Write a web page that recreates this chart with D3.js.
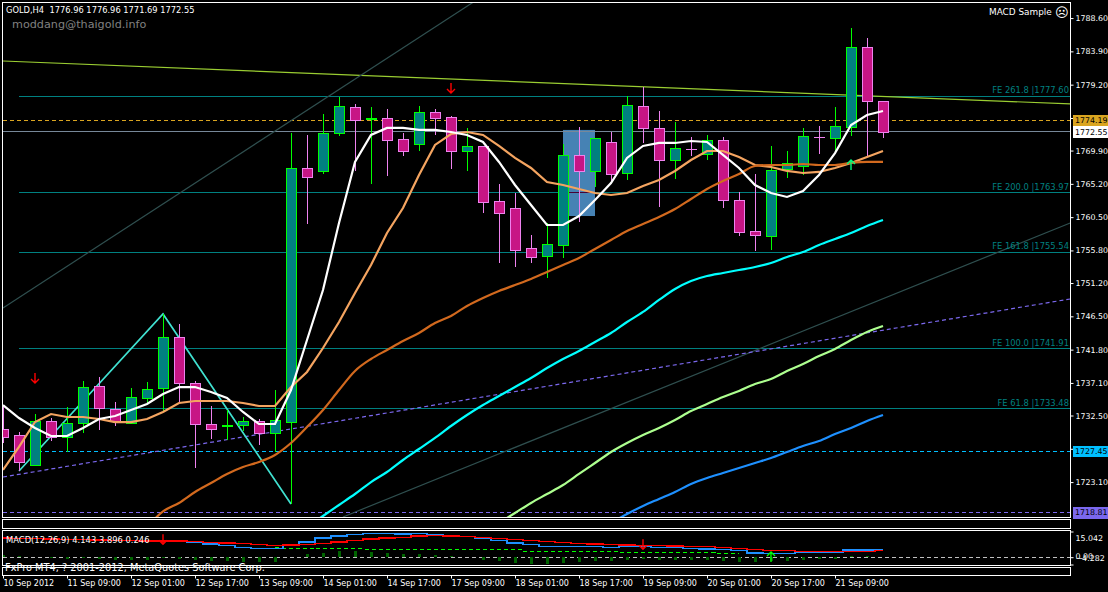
<!DOCTYPE html>
<html><head><meta charset="utf-8">
<script src="https://cdn.jsdelivr.net/npm/d3@7/dist/d3.min.js"></script>
<style>
html,body{margin:0;padding:0;background:#000;overflow:hidden}
svg{display:block}
text{font-family:"DejaVu Sans",sans-serif;font-size:8px;fill:#fff}
</style></head><body><div id="chart"></div>
<script>
// ---------- data (prices) ----------
const open=[1730.60,1729.75,1725.51,1731.73,1729.47,1731.44,1736.67,1733.42,1731.44,1734.97,1736.38,1743.59,1737.09,1731.30,1731.02,1731.16,1731.73,1730.03,1731.58,1767.44,1767.02,1772.38,1776.05,1774.36,1774.50,1771.54,1770.83,1775.35,1774.64,1769.84,1770.55,1762.78,1761.79,1756.15,1755.02,1756.57,1769.28,1767.02,1771.11,1766.73,1776.19,1773.09,1768.57,1770.13,1769.41,1771.39,1762.92,1758.54,1757.84,1767.30,1767.72,1771.83,1771.67,1773.23,1784.52,1776.96];
const high=[1733.84,1730.17,1732.71,1732.15,1733.70,1737.37,1737.94,1734.41,1736.38,1737.23,1746.83,1745.42,1737.37,1733.84,1733.28,1732.29,1732.01,1736.10,1772.38,1772.10,1775.06,1777.46,1776.48,1776.05,1775.77,1772.38,1776.19,1775.77,1774.78,1773.09,1770.55,1765.18,1763.91,1757.98,1759.67,1770.83,1773.23,1771.67,1772.52,1777.60,1778.87,1775.48,1773.93,1771.82,1772.10,1771.82,1764.05,1766.59,1770.55,1769.84,1773.09,1773.37,1776.05,1787.19,1785.79,1776.96];
const low=[1728.62,1724.67,1725.51,1728.90,1727.35,1730.03,1730.46,1731.02,1731.44,1734.27,1733.00,1734.27,1725.09,1729.19,1729.05,1730.32,1728.34,1727.35,1720.01,1759.53,1766.59,1771.96,1767.02,1765.18,1766.31,1769.14,1769.84,1772.10,1767.30,1767.02,1761.09,1754.03,1753.46,1754.03,1751.91,1754.74,1759.81,1764.76,1765.32,1765.74,1770.97,1761.93,1765.88,1769.14,1768.57,1761.79,1757.84,1755.73,1755.87,1766.03,1766.45,1769.41,1769.84,1771.96,1769.14,1771.69];
const close=[1729.47,1725.94,1731.73,1729.47,1731.44,1736.52,1733.56,1731.73,1735.11,1736.24,1743.59,1737.09,1731.30,1730.60,1731.16,1731.73,1730.03,1731.87,1767.44,1766.17,1772.38,1776.19,1774.22,1774.50,1771.39,1769.84,1775.35,1774.50,1769.84,1770.55,1762.64,1761.09,1755.87,1754.88,1756.71,1769.28,1767.02,1771.67,1766.59,1776.33,1773.09,1768.57,1770.26,1770.12,1771.39,1762.92,1758.40,1757.98,1767.16,1768.15,1771.96,1771.82,1773.37,1784.52,1776.90,1772.55];

const maFast=[1733.98,1732.15,1730.74,1729.61,1729.61,1730.74,1732.01,1732.43,1733.28,1734.13,1735.54,1736.52,1736.52,1735.82,1734.97,1733.00,1731.30,1731.30,1736.10,1743.16,1750.22,1759.67,1768.29,1772.10,1773.09,1773.09,1772.81,1772.81,1772.52,1772.10,1771.11,1768.29,1765.04,1762.21,1759.39,1759.39,1760.66,1762.92,1765.32,1768.86,1770.55,1770.97,1770.97,1771.25,1771.11,1769.28,1767.44,1765.04,1763.91,1763.35,1764.19,1766.45,1769.55,1773.51,1774.92,1775.48];
const maLight=[1724.81,1728.06,1731.58,1732.71,1732.29,1732.29,1732.01,1731.58,1731.58,1732.01,1733.00,1734.27,1734.55,1734.55,1734.55,1734.27,1733.84,1733.84,1736.52,1738.65,1742.03,1745.70,1749.80,1753.75,1758.26,1761.79,1766.45,1770.69,1772.24,1772.52,1772.10,1770.55,1768.86,1767.44,1765.46,1765.04,1764.47,1763.91,1763.63,1763.91,1764.90,1765.74,1767.02,1768.57,1769.84,1769.84,1768.99,1767.86,1767.58,1767.02,1766.73,1766.88,1767.44,1768.15,1768.99,1769.84];
const maDarkStart=9;
const maDark=[1716.77,1718.96,1720.16,1721.70,1722.97,1724.25,1725.23,1725.94,1726.93,1728.62,1730.88,1733.28,1736.10,1738.79,1740.48,1741.75,1743.02,1744.15,1745.56,1746.55,1747.96,1749.09,1750.08,1750.92,1751.77,1752.76,1753.75,1754.74,1756.01,1757.27,1758.54,1759.53,1760.52,1761.65,1763.06,1764.47,1765.60,1766.59,1767.72,1767.86,1767.86,1768.00,1767.86,1767.86,1768.15,1768.29,1768.29];
const maCyanStart=19;
const maCyan=[1716.77,1718.32,1719.87,1721.42,1723.11,1724.53,1726.22,1727.77,1729.33,1731.02,1732.57,1733.98,1735.25,1736.52,1737.79,1739.20,1740.48,1741.61,1742.88,1744.15,1745.70,1747.12,1748.81,1750.36,1751.49,1752.19,1752.62,1753.04,1753.46,1754.03,1754.88,1755.58,1756.57,1757.42,1758.26,1759.25,1760.10];
const maGreenStart=31;
const maGreen=[1717.33,1718.74,1720.16,1721.42,1722.69,1724.25,1725.80,1727.35,1728.62,1729.75,1730.74,1731.87,1733.14,1734.13,1735.11,1735.96,1736.95,1737.65,1738.79,1739.77,1740.90,1741.89,1743.16,1744.29,1745.14];
const maBlueStart=38;
const maBlue=[1717.33,1718.60,1719.73,1720.72,1721.70,1722.83,1723.68,1724.39,1725.09,1725.80,1726.50,1727.35,1728.20,1728.90,1729.89,1730.74,1731.73,1732.57];

const macdMain=[11.23,11.04,10.84,10.65,10.45,10.26,10.06,9.87,9.67,9.67,9.67,9.48,8.50,7.72,6.94,5.77,5.18,5.18,7.52,8.89,11.23,12.40,13.38,13.97,13.97,13.58,13.77,13.38,12.79,12.21,11.04,9.67,8.31,7.33,6.16,6.16,6.16,6.16,5.77,6.55,6.55,5.77,5.57,4.99,4.79,4.60,3.82,2.45,2.25,2.25,2.84,2.84,2.84,4.21,4.21,4.143];
const macdSignal=[11.23,11.04,10.84,10.65,10.45,10.26,10.06,9.87,9.67,9.48,9.48,9.48,9.09,8.70,8.31,7.91,7.52,6.94,7.13,7.52,8.11,8.89,9.87,10.65,11.23,11.62,12.40,12.60,12.40,12.01,11.43,11.04,10.45,9.87,9.28,8.70,8.11,7.72,7.33,7.13,6.94,6.74,6.55,6.35,6.16,5.77,5.18,4.60,4.01,4.01,3.23,3.23,3.23,3.43,3.43,3.896];
const macdHist=[1.37,0.59,0,-0.40,-0.98,-0.60,-0.98,-1.37,-1.56,-1.56,-0.20,-0.80,-1.56,-2.15,-2.15,-2.73,-2.73,-2.73,0,1.95,2.73,3.90,3.90,3.32,2.73,1.95,1.95,1.37,0.78,0,-1.56,-2.15,-3.32,-3.90,-3.90,-3.32,-2.73,-2.15,-2.15,-1.37,-0.78,-1.56,-1.56,-1.56,-1.56,-2.15,-2.73,-2.73,-2.15,-2.15,-1.37,-0.98,-0.78,0.78,0.78,0.246];
const macdDashStart=17;
const macdDash=[5.57,5.38,5.38,5.18,4.99,4.99,4.79,4.79,4.60,4.60,4.40,4.21,4.21,4.21,4.21,4.21,3.43,3.43,3.43,3.43,3.43,3.43,2.84,2.84,2.84,2.84,2.84,2.84,2.25,2.25];

const timeTicks=[0,4,8,12,16,20,24,28,32,36,40,44,48,52];
const timeLabels=["10 Sep 2012","11 Sep 09:00","12 Sep 01:00","12 Sep 17:00","13 Sep 09:00","14 Sep 01:00","14 Sep 17:00","17 Sep 09:00","18 Sep 01:00","18 Sep 17:00","19 Sep 09:00","20 Sep 01:00","20 Sep 17:00","21 Sep 09:00"];
const priceTicks=[1788.6,1783.9,1779.2,1774.5,1769.9,1765.2,1760.5,1755.8,1751.2,1746.5,1741.8,1737.1,1732.5,1727.8,1723.1];
const feLevels=[["FE 261.8",1777.60],["FE 200.0",1763.97],["FE 161.8",1755.54],["FE 100.0",1741.91],["FE 61.8",1733.48]];
const priceBoxes=[[1774.19,"#daa520","#000"],[1772.55,"#ffffff","#000"],[1727.45,"#00bfff","#000"],[1718.81,"#7b68ee","#000"]];
const trendOlive=[[0,1782.54],[66.7,1776.48]];
const trendGrayA=[[0,1747.68],[29.6,1791.15]];
const trendGrayB=[[21.25,1718.18],[66.7,1759.67]];
const trendSlate=[[0,1723.82],[66.7,1748.95]];
const zigzag=[[1,1724.67],[10,1746.83],[18,1720.01]];
const boxBars=[35,37], boxPrices=[1772.81,1760.66];
const downArrows=[[2,1737.09],[28,1778.02]];
const upArrows=[[53,1768.57]];
const macdDownArrows=[[10,7.6],[40,4.6]];
const macdUpArrows=[[48,4.8]];

// ---------- scales ----------
const W=1108,H=592,L=2.5,R=1070.5;
const x=d3.scaleLinear().domain([0,55]).range([3,883]);
const y=d3.scaleLinear().domain([1718.81,1777.60]).range([512.5,96]);
const ym=d3.scaleLinear().domain([-4.282,15.042]).range([564.5,531.5]);
const svg=d3.select("#chart").append("svg").attr("width",W).attr("height",H);
svg.append("rect").attr("width",W).attr("height",H).attr("fill","#000");
const defs=svg.append("defs");
defs.append("clipPath").attr("id","cm").append("rect").attr("x",L).attr("y",2.5).attr("width",R-L).attr("height",515);
defs.append("clipPath").attr("id","cb").append("rect").attr("x",L).attr("y",530.5).attr("width",R-L).attr("height",35);
const main=svg.append("g").attr("clip-path","url(#cm)");
const crisp=s=>s.attr("shape-rendering","crispEdges");

// box
main.append("rect").attr("x",x(boxBars[0])).attr("width",x(boxBars[1])-x(boxBars[0]))
 .attr("y",y(boxPrices[0])).attr("height",y(boxPrices[1])-y(boxPrices[0])).attr("fill","#4682b4");

// horizontal levels
const hl=(p,col,dash,x0)=>crisp(main.append("line").attr("x1",x0).attr("x2",R).attr("y1",y(p)).attr("y2",y(p))
 .attr("stroke",col).attr("stroke-width",1).attr("stroke-dasharray",dash||null));
feLevels.forEach(d=>{hl(d[1],"#008080",null,x(1));});
crisp(main.append("line").attr("x1",x(35.3)).attr("x2",x(37)).attr("y1",y(1763.97)).attr("y2",y(1763.97)).attr("stroke","#460234"));
hl(1774.19,"#daa520","4 3",L);
hl(1772.55,"#778899",null,L);
hl(1727.45,"#00bfff","4 3",x(0));
hl(1718.81,"#7b68ee","4 3",x(0));

// trend lines
const seg=d3.line().x(d=>x(d[0])).y(d=>y(d[1]));
main.append("path").attr("d",seg(trendOlive)).attr("fill","none").attr("stroke","#9acd32").attr("stroke-width",1.2);
main.append("path").attr("d",seg(trendGrayA)).attr("fill","none").attr("stroke","#2f4f4f").attr("stroke-width",1.2);
main.append("path").attr("d",seg(trendGrayB)).attr("fill","none").attr("stroke","#2f4f4f").attr("stroke-width",1.2);
main.append("path").attr("d",seg(trendSlate)).attr("fill","none").attr("stroke","#7b68ee").attr("stroke-width",1.2).attr("stroke-dasharray","4 3");
main.append("path").attr("d",seg(zigzag)).attr("fill","none").attr("stroke","#40e0d0").attr("stroke-width",1.7);

// candles
const bars=d3.range(open.length);
const up=i=>close[i]>=open[i];
const bodyTop=i=>Math.round(y(Math.max(open[i],close[i])));
const bodyBot=i=>Math.round(y(Math.min(open[i],close[i])));
crisp(main.selectAll("line.w").data(bars).join("line").attr("class","w")
 .attr("x1",x).attr("x2",x).attr("y1",i=>y(high[i])).attr("y2",i=>y(low[i]))
 .attr("stroke",i=>up(i)?"#00ff00":"#ee82ee").attr("stroke-width",1));
crisp(main.selectAll("rect.b").data(bars.filter(i=>bodyBot(i)>bodyTop(i))).join("rect").attr("class","b")
 .attr("x",i=>Math.round(x(i))-5).attr("width",10)
 .attr("y",i=>bodyTop(i)+.5)
 .attr("height",i=>bodyBot(i)-bodyTop(i))
 .attr("fill",i=>up(i)?"#008080":"#c71585")
 .attr("stroke",i=>up(i)?"#00ff00":"#ee82ee").attr("stroke-width",1));
crisp(main.selectAll("line.d").data(bars.filter(i=>bodyBot(i)<=bodyTop(i))).join("line").attr("class","d")
 .attr("x1",i=>Math.round(x(i))-5).attr("x2",i=>Math.round(x(i))+6)
 .attr("y1",i=>bodyTop(i)+.5).attr("y2",i=>bodyTop(i)+.5)
 .attr("stroke",i=>up(i)?"#00ff00":"#ee82ee").attr("stroke-width",1));

// moving averages
const ma=(vals,start,col,curve)=>main.append("path")
 .attr("d",d3.line().x((d,i)=>x(i+start)).y(d=>y(d)).curve(curve||d3.curveLinear)(vals))
 .attr("fill","none").attr("stroke",col).attr("stroke-width",2.2);
ma(maBlue,maBlueStart,"#1e90ff",d3.curveMonotoneX);
ma(maGreen,maGreenStart,"#adff8f",d3.curveMonotoneX);
ma(maCyan,maCyanStart,"#00ffff",d3.curveMonotoneX);
ma(maLight,0,"#f4a460");
ma(maDark,maDarkStart,"#d2691e",d3.curveMonotoneX);
ma(maFast,0,"#ffffff");

// arrows
function arrow(g,px,py,dir,col){
 const h=10*dir;
 g.append("path").attr("d",`M${px},${py}L${px},${py-h}M${px-4},${py-4*dir}L${px},${py}L${px+4},${py-4*dir}`)
  .attr("fill","none").attr("stroke",col).attr("stroke-width",1.4);
}
downArrows.forEach(d=>arrow(main,x(d[0]),y(d[1]),1,"#ff0000"));
upArrows.forEach(d=>arrow(main,x(d[0]),y(d[1]),-1,"#00ff7f"));

// MACD pane
const sub=svg.append("g").attr("clip-path","url(#cb)");
crisp(sub.append("line").attr("x1",L).attr("x2",R).attr("y1",ym(0)).attr("y2",ym(0)).attr("stroke","#c0c0c0").attr("stroke-dasharray","4 3"));
crisp(sub.selectAll("rect.h").data(macdHist).join("rect").attr("class","h")
 .attr("x",(d,i)=>x(i)-1.5).attr("width",3)
 .attr("y",d=>Math.min(ym(d),ym(0))).attr("height",d=>Math.abs(ym(d)-ym(0))).attr("fill","#006400"));
crisp(sub.append("path").attr("d",d3.line().x((d,i)=>x(i+macdDashStart)).y(d=>ym(d)).curve(d3.curveStep)(macdDash))
 .attr("fill","none").attr("stroke","#00ff00").attr("stroke-dasharray","4 3"));
crisp(sub.append("path").attr("d",d3.line().x((d,i)=>x(i)).y(d=>ym(d)).curve(d3.curveStep)(macdMain))
 .attr("fill","none").attr("stroke","#1e90ff").attr("stroke-width",1.4));
crisp(sub.append("path").attr("d",d3.line().x((d,i)=>x(i)).y(d=>ym(d)).curve(d3.curveStep)(macdSignal))
 .attr("fill","none").attr("stroke","#ff0000").attr("stroke-width",1.4));
macdDownArrows.forEach(d=>arrow(sub,x(d[0]),ym(d[1]),1,"#ff0000"));
macdUpArrows.forEach(d=>arrow(sub,x(d[0]),ym(d[1])+3,-1,"#00ff00"));

// pane borders
[[2.5,517.5],[519.5,528.5],[530.5,565.5],[567.5,575.5]].forEach(p=>{
 crisp(svg.append("rect").attr("x",L).attr("y",p[0]).attr("width",R-L).attr("height",p[1]-p[0]).attr("fill","none").attr("stroke","#fff"));
});

// axes
const tickStyle="font-size:7.9px;font-family:'DejaVu Sans'";
const ay=svg.append("g").attr("transform",`translate(${R},0)`)
 .call(d3.axisRight(y).tickValues(priceTicks).tickSize(3).tickPadding(2).tickFormat(d3.format(".2f")));
ay.select(".domain").remove();
ay.selectAll("line").attr("stroke","#fff");
ay.selectAll("text").attr("style",tickStyle).attr("fill","#fff");
const ax=svg.append("g").attr("transform","translate(0,575.5)")
 .call(d3.axisBottom(x).tickValues(timeTicks).tickSize(3).tickPadding(2).tickFormat((d,i)=>timeLabels[i]));
ax.select(".domain").remove();
ax.selectAll("line").attr("stroke","#fff");
ax.selectAll("text").attr("text-anchor","start").attr("style","font-size:8px;font-family:'DejaVu Sans'").attr("fill","#fff");
const aym=svg.append("g").attr("transform",`translate(${R},0)`)
 .call(d3.axisRight(ym).tickValues([15.042,0,-4.282]).tickSize(3).tickPadding(2).tickFormat(d=>d===0?"0.00":d3.format(".3f")(d)));
aym.select(".domain").remove();
aym.selectAll("line").attr("stroke","#fff");
aym.selectAll("text").attr("style",tickStyle).attr("fill","#fff");
aym.selectAll("text").attr("y",(d)=>d===15.042?6:(d===0?-1:-7));

// price boxes
priceBoxes.forEach(b=>{
 const g=svg.append("g");
 crisp(g.append("rect").attr("x",1073).attr("y",y(b[0])-5.5).attr("width",35).attr("height",11.5).attr("fill",b[1]));
 g.append("text").attr("x",1075).attr("y",y(b[0])).attr("dy","0.35em").attr("style",`font-size:7.9px;fill:${b[2]}`).text(b[0].toFixed(2));
});

// FE labels
feLevels.forEach(d=>{
 svg.append("text").attr("x",1069).attr("y",y(d[1])-6).attr("dy","0.35em").attr("text-anchor","end")
  .attr("style","fill:#008080;font-size:8.4px").text(`${d[0]} |${d[1].toFixed(2)}`);
});

// captions
const cap=(t,px,py,st)=>svg.append("text").attr("x",px).attr("y",py).attr("dy","0.35em").attr("style",st||"").text(t);
cap("GOLD,H4  1776.96 1776.96 1771.69 1772.55",6,10.5,"font-size:8.3px;white-space:pre");
cap("moddang@thaigold.info",12,24,"font-size:11.2px;fill:#808080");
cap("MACD Sample",989,11.5,"font-size:8.9px");
cap("\u2639",1055,12,"font-size:13px");
cap("MACD(12,26,9) 4.143 3.896 0.246",6,540.5,"font-size:8.4px");
cap("FxPro MT4, ? 2001-2012, MetaQuotes Software Corp.",5,568,"font-size:9.8px");
</script></body></html>
